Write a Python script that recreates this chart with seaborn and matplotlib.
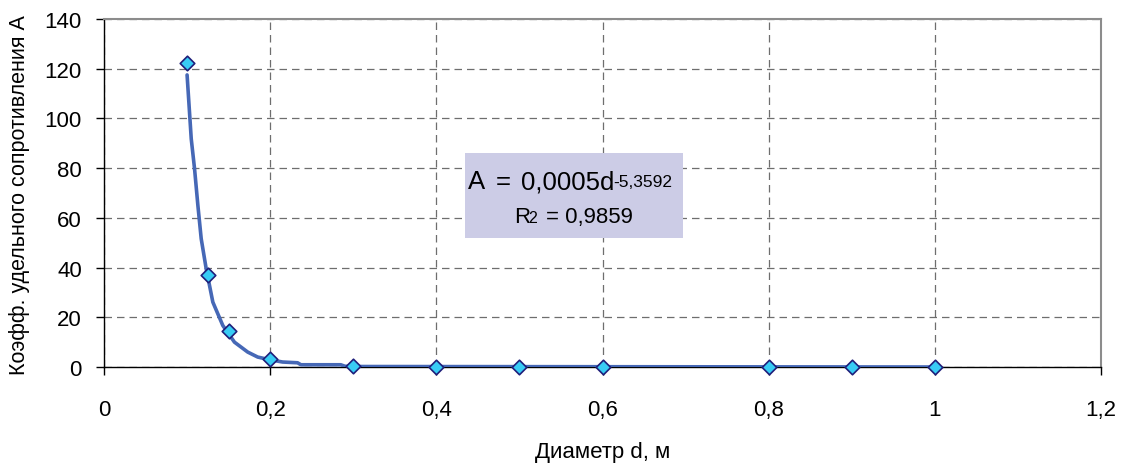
import matplotlib
matplotlib.use("Agg")
import matplotlib.pyplot as plt
import seaborn as sns
import pandas as pd
from matplotlib.patches import Rectangle
from matplotlib.ticker import FuncFormatter

# measured points (diameter, coefficient)
diam = [0.1, 0.125, 0.15, 0.2, 0.3, 0.4, 0.5, 0.6, 0.8, 0.9, 1.0]
coef = [122.5, 37.2, 14.5, 3.3, 0.4, 0.1, 0.03, 0.01, 0.0, 0.0, 0.0]

# power trendline
trend_d = [0.1, 0.105, 0.109, 0.113, 0.117, 0.123, 0.131, 0.143, 0.157, 0.173,
           0.185, 0.193, 0.2, 0.215, 0.233, 0.237, 0.285, 0.29, 0.3, 1.0]
trend_a = [117.5, 91.8, 79.7, 65.0, 51.6, 39.5, 26.1, 16.7, 10.0, 6.0,
           4.0, 3.4, 2.9, 2.0, 1.7, 0.9, 0.9, 0.3, 0.2, 0.0]

x_ticks = [0, 0.2, 0.4, 0.6, 0.8, 1.0, 1.2]
y_ticks = [0, 20, 40, 60, 80, 100, 120, 140]

sns.set_theme(style="white")
plt.rcParams['font.family'] = ['Liberation Sans', 'DejaVu Sans']
plt.rcParams['text.color'] = 'black'
plt.rcParams['axes.labelcolor'] = 'black'
plt.rcParams['xtick.color'] = 'black'
plt.rcParams['ytick.color'] = 'black'

points = pd.DataFrame({'d': diam, 'A': coef})
trend = pd.DataFrame({'d': trend_d, 'A': trend_a})

fig = plt.figure(figsize=(11.22, 4.64), dpi=100)
ax = fig.add_axes([104 / 1122, 1 - 368 / 464, 997 / 1122, 348 / 464])

sns.lineplot(data=trend, x='d', y='A', ax=ax, color='#4668B6', linewidth=2.6,
             sort=False, zorder=3)
sns.scatterplot(data=points, x='d', y='A', ax=ax, marker='D', s=55,
                color='#38CCF5', edgecolor='#1F1F7A', linewidth=1.2,
                zorder=4, clip_on=False)

ax.set_xlim(0, 1.2)
ax.set_ylim(0, 140)
ax.set_xticks(x_ticks)
ax.set_yticks(y_ticks)
fmt = FuncFormatter(lambda v, p: f"{v:g}".replace('.', ','))
ax.xaxis.set_major_formatter(fmt)
ax.yaxis.set_major_formatter(fmt)

ax.grid(True, linestyle=(0, (6, 4)), color='#6E6E6E', linewidth=0.9)
ax.set_axisbelow(True)

for side in ['left', 'bottom']:
    ax.spines[side].set_color('black')
    ax.spines[side].set_linewidth(1.0)
for side in ['top', 'right']:
    ax.spines[side].set_color('#8C8C8C')
    ax.spines[side].set_linewidth(1.5)

ax.tick_params(axis='both', direction='out', length=6, width=1, color='black',
               labelsize=16, left=True, bottom=True)
ax.tick_params(axis='x', pad=17)
ax.tick_params(axis='y', pad=10)

ax.set_xlabel("Диаметр d, м", fontsize=16, va='top')
ax.xaxis.set_label_coords(0.5, -0.212)
ax.set_ylabel("Коэфф. удельного сопротивления А", fontsize=15.5)
ax.yaxis.set_label_coords(-0.074, 0.497)

# trendline equation box (Excel style: small exponent and small "2" near the baseline)
ax.add_patch(Rectangle((0.362, 0.371), 0.219, 0.244, transform=ax.transAxes,
                       facecolor='#CCCCE6', edgecolor='none', zorder=5))
eq_parts = [("A", 0.3655, 0.5135, 18.5), ("=", 0.3925, 0.5135, 18.5),
            ("0,0005d", 0.4185, 0.5135, 18.5), ("-5,3592", 0.5105, 0.521, 12.5),
            ("R", 0.4115, 0.4158, 16), ("2", 0.4255, 0.418, 11.5),
            ("= 0,9859", 0.4435, 0.4158, 16)]
for txt, tx, ty, fs in eq_parts:
    ax.text(tx, ty, txt, transform=ax.transAxes, fontsize=fs,
            ha='left', va='baseline', zorder=6)

plt.savefig('out.png', dpi=100)
